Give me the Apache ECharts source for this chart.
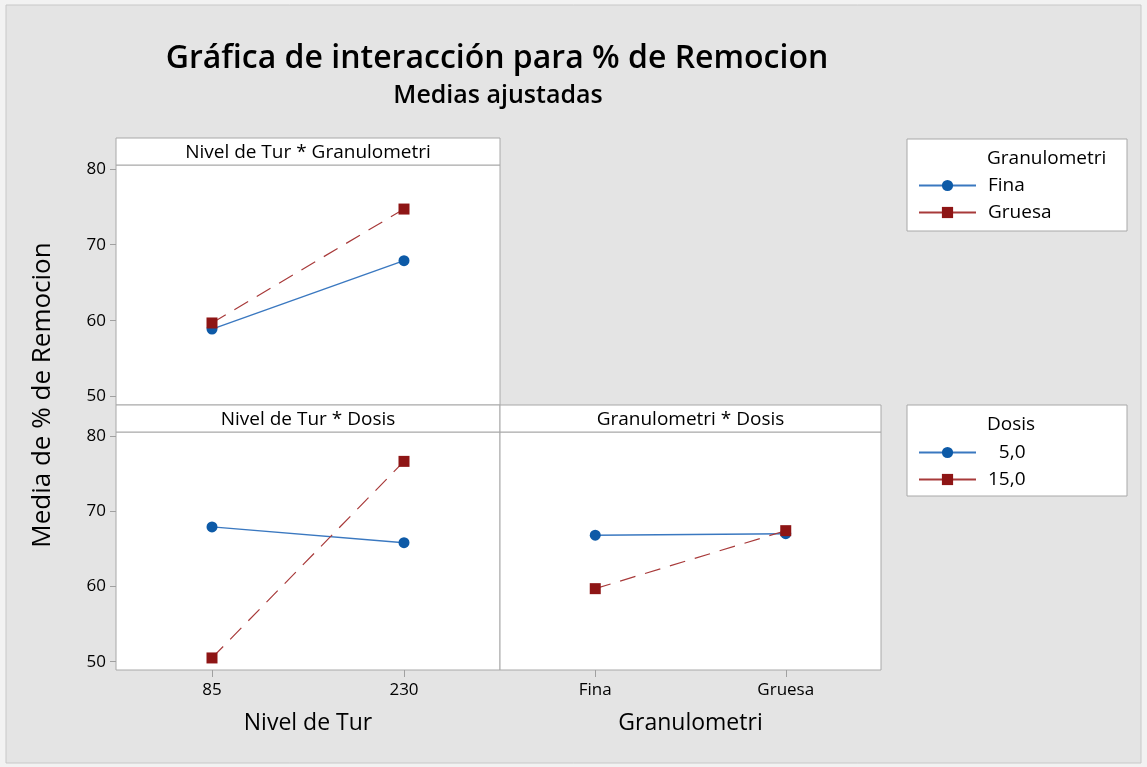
<!DOCTYPE html>
<html>
<head>
<meta charset="utf-8">
<script src="https://cdn.jsdelivr.net/npm/echarts@6/dist/echarts.min.js"></script>
<style>
  html, body { margin: 0; padding: 0; background: #f2f2f2; }
  #chart { width: 1147px; height: 767px; }
</style>
</head>
<body>
<div id="chart"></div>
<script>
// categorias
const nivelTur = ['85', '230'];
const granulometri = ['Fina', 'Gruesa'];
const dosisNames = ['5,0', '15,0'];
const yTicks = [50, 60, 70, 80];

// medias ajustadas
const turGranFina = [58.9, 67.9];
const turGranGruesa = [59.7, 74.7];
const turDosis5 = [67.9, 65.8];
const turDosis15 = [50.5, 76.6];
const granDosis5 = [66.8, 67.0];
const granDosis15 = [59.7, 67.4];

const FONT = 'Open Sans';
const blue = '#0d5aa7';
const blueLine = '#3a78c0';
const red = '#8e1515';
const redLine = '#a83a3a';

const chart = echarts.init(document.getElementById('chart'));

function yAxis(idx, showLabels) {
    return {
        type: 'value',
        gridIndex: idx,
        min: 48.9,
        max: 80.5,
        axisLine: { show: false },
        axisTick: { show: showLabels, length: 6, customValues: yTicks, lineStyle: { color: '#a0a0a0' } },
        axisLabel: {
            show: showLabels, customValues: yTicks, margin: 10,
            color: '#000', fontFamily: FONT, fontSize: 17
        },
        splitLine: { show: false }
    }
}

function xAxis(idx, data, name, showLabels) {
    return {
        type: 'category',
        gridIndex: idx,
        data: data,
        boundaryGap: true,
        name: name,
        nameLocation: 'middle',
        nameGap: 42,
        nameTextStyle: { color: '#000', fontFamily: FONT, fontSize: 23 },
        axisLine: { show: false },
        axisTick: { show: showLabels, alignWithLabel: true, length: 7, lineStyle: { color: '#a0a0a0' } },
        axisLabel: { show: showLabels, margin: 12, color: '#000', fontFamily: FONT, fontSize: 17 },
        splitLine: { show: false }
    }
}

function serie(name, idx, values, isSecond) {
    return {
        name: name,
        type: 'line',
        xAxisIndex: idx,
        yAxisIndex: idx,
        data: values,
        symbol: isSecond ? 'rect' : 'circle',
        symbolSize: 11,
        itemStyle: { color: isSecond ? red : blue },
        lineStyle: isSecond
            ? { color: redLine, width: 1.2, type: [16, 10] }
            : { color: blueLine, width: 1.4 },
        emphasis: { disabled: true },
        z: isSecond ? 3 : 2
    }
}

const headerBox = (x, y, w, h, label) => [
    { type: 'rect', shape: { x: x, y: y, width: w, height: h }, style: { fill: '#fff', stroke: '#a8a8a8', lineWidth: 1 } },
    { type: 'text', x: x + w / 2, y: y + h / 2 + 1, style: { text: label, fill: '#000', font: '19px "Open Sans"', textAlign: 'center', textVerticalAlign: 'middle' } }
];

const legendBox = (x, y, w, h, title) => [
    { type: 'rect', shape: { x: x, y: y, width: w, height: h }, style: { fill: '#fff', stroke: '#a8a8a8', lineWidth: 1 } },
    { type: 'text', x: 987, y: y + 20, style: { text: title, fill: '#000', font: '19px "Open Sans"', textVerticalAlign: 'middle' } }
];

function legend(top, names) {
    return {
        orient: 'vertical',
        left: 918,
        top: top,
        padding: 0,
        itemWidth: 57,
        itemHeight: 14,
        itemGap: 8,
        selectedMode: false,
        data: names.map(n => ({ name: n, lineStyle: { type: 'solid' } })),
        formatter: n => n.length < 4 && n.indexOf(',') > 0 ? '\u2007' + n : n,
        textStyle: { color: '#000', fontFamily: FONT, fontSize: 19, padding: [0, 0, 0, 7] }
    }
}

chart.setOption({
    animation: false,
    backgroundColor: '#f2f2f2',
    graphic: [
        { type: 'rect', z: -10, shape: { x: 6, y: 5, width: 1135, height: 758 }, style: { fill: '#e4e4e4', stroke: '#c8c8c8' } },
        { type: 'text', x: 497, y: 59, style: { text: 'Gráfica de interacción para % de Remocion', fill: '#000', font: '600 32px "Open Sans"', textAlign: 'center', textVerticalAlign: 'middle' } },
        { type: 'text', x: 498, y: 96, style: { text: 'Medias ajustadas', fill: '#000', font: '600 25px "Open Sans"', textAlign: 'center', textVerticalAlign: 'middle' } },
        { type: 'text', x: 43, y: 395, rotation: Math.PI / 2, style: { text: 'Media de % de Remocion', fill: '#000', font: '26px "Open Sans"', textAlign: 'center', textVerticalAlign: 'middle' } },
        ...headerBox(116, 138, 384, 27, 'Nivel de Tur * Granulometri'),
        ...headerBox(116, 405, 384, 27, 'Nivel de Tur * Dosis'),
        ...headerBox(500, 405, 381, 27, 'Granulometri * Dosis'),
        ...legendBox(907, 139, 220, 92, 'Granulometri'),
        ...legendBox(907, 405, 220, 91, 'Dosis')
    ],
    legend: [legend(176, ['Fina', 'Gruesa']), legend(443, dosisNames)],
    grid: [
        { left: 116, top: 165, width: 384, height: 240, show: true, backgroundColor: '#fff', borderColor: '#a8a8a8', borderWidth: 1 },
        { left: 116, top: 432, width: 384, height: 238, show: true, backgroundColor: '#fff', borderColor: '#a8a8a8', borderWidth: 1 },
        { left: 500, top: 432, width: 381, height: 238, show: true, backgroundColor: '#fff', borderColor: '#a8a8a8', borderWidth: 1 }
    ],
    xAxis: [
        xAxis(0, nivelTur, '', false),
        xAxis(1, nivelTur, 'Nivel de Tur', true),
        xAxis(2, granulometri, 'Granulometri', true)
    ],
    yAxis: [yAxis(0, true), yAxis(1, true), yAxis(2, false)],
    series: [
        serie('Fina', 0, turGranFina, false),
        serie('Gruesa', 0, turGranGruesa, true),
        serie(dosisNames[0], 1, turDosis5, false),
        serie(dosisNames[1], 1, turDosis15, true),
        serie(dosisNames[0], 2, granDosis5, false),
        serie(dosisNames[1], 2, granDosis15, true)
    ]
});
</script>
</body>
</html>
